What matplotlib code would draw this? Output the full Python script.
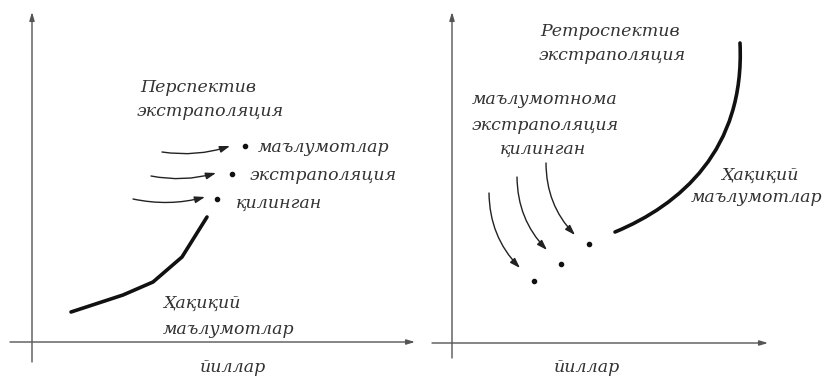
import matplotlib.pyplot as plt
from matplotlib.path import Path
from matplotlib.patches import PathPatch

# schematic coordinates in pixels (x right, y down)
left_curve_x = [71, 123, 153, 182, 207]
left_curve_y = [312, 295, 282, 257, 217]
left_dots_x = [245, 232, 217]
left_dots_y = [146, 174, 199]
left_arrows = [((162, 152), (230, 146)), ((151, 176), (216, 173)), ((133, 199), (205, 197))]

# bezier control points for the right-hand curve
right_curve = [(615, 232), (680, 205), (745, 150), (740, 43)]
right_dots_x = [589, 561, 534]
right_dots_y = [244, 264, 281]
right_arrows = [((546, 163), (575, 235)), ((517, 177), (547, 250)), ((489, 193), (520, 268))]

left_labels = [
    ("Перспектив", 140, 88, "left"),
    ("экстраполяция", 137, 112, "left"),
    ("маълумотлар", 258, 147, "left"),
    ("экстраполяция", 250, 175, "left"),
    ("қилинган", 236, 203, "left"),
    ("Ҳақиқий", 163, 303, "left"),
    ("маълумотлар", 163, 330, "left"),
    ("йиллар", 233, 367, "center"),
]
right_labels = [
    ("Ретроспектив", 610, 32, "center"),
    ("экстраполяция", 612, 55, "center"),
    ("маълумотнома", 545, 100, "center"),
    ("экстраполяция", 545, 125, "center"),
    ("қилинган", 543, 149, "center"),
    ("Ҳақиқий", 760, 175, "center"),
    ("маълумотлар", 757, 197, "center"),
    ("йиллар", 587, 368, "center"),
]

fig = plt.figure(figsize=(8.3, 3.76), dpi=100)
ax = fig.add_axes([0, 0, 1, 1])
ax.set_xlim(0, 830)
ax.set_ylim(376, 0)
ax.axis("off")

axis_col = "#555555"
# axes of both panels
for (x0, y0, x1, y1) in [(32, 362, 32, 12), (10, 342, 415, 342),
                         (452, 358, 452, 12), (432, 343, 768, 343)]:
    ax.annotate("", xy=(x1, y1), xytext=(x0, y0),
                arrowprops=dict(arrowstyle="-|>,head_length=0.5,head_width=0.15",
                                color=axis_col, lw=1.0, shrinkA=0, shrinkB=0))

ax.plot(left_curve_x, left_curve_y, color="#111111", lw=2.6,
        solid_capstyle="round", solid_joinstyle="round")
path = Path(right_curve, [Path.MOVETO, Path.CURVE4, Path.CURVE4, Path.CURVE4])
ax.add_patch(PathPatch(path, facecolor="none", edgecolor="#111111", lw=2.6, capstyle="round"))
ax.scatter(left_dots_x + right_dots_x, left_dots_y + right_dots_y, s=9, color="#111111", zorder=3)

for start, end in left_arrows:
    ax.annotate("", xy=end, xytext=start,
                arrowprops=dict(arrowstyle="-|>,head_length=0.6,head_width=0.2",
                                color="#222222", lw=1.0, shrinkA=0, shrinkB=0,
                                connectionstyle="arc3,rad=0.12"))
for start, end in right_arrows:
    ax.annotate("", xy=end, xytext=start,
                arrowprops=dict(arrowstyle="-|>,head_length=0.6,head_width=0.2",
                                color="#222222", lw=1.0, shrinkA=0, shrinkB=0,
                                connectionstyle="arc3,rad=0.2"))

for text, x, y, ha in left_labels + right_labels:
    ax.text(x, y, text, ha=ha, va="center", fontsize=12.5, style="italic",
            family="DejaVu Serif", color="#333333")

fig.savefig("out.png", dpi=100)
